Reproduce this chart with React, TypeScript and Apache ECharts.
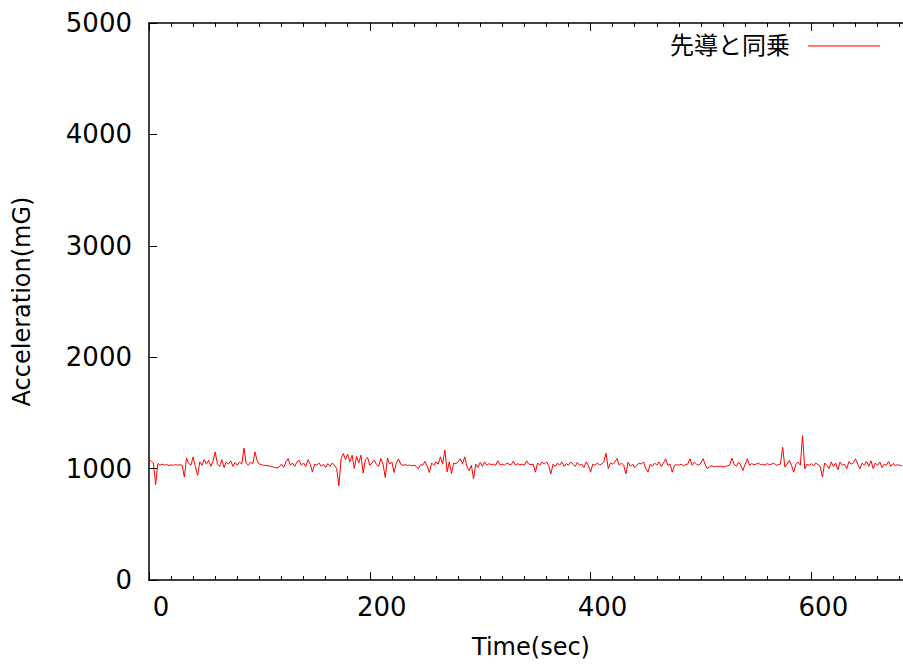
import React, { useEffect, useRef } from "react";
import * as echarts from "echarts";

// Sample times (s), one reading every 2 seconds
const STEP_SEC = 2;

// Measured acceleration (mG)
const acceleration: number[] = [
  1085, 1065, 1050, 855, 1045, 1030, 1040, 1032, 1035, 1028,
  1033, 1030, 1036, 1031, 1034, 1030, 925, 1095, 1045, 1030,
  1105, 1020, 940, 1060, 1030, 1080, 1040, 1075, 1020, 1065,
  1150, 1040, 1020, 1080, 1010, 1060, 1040, 1070, 1020, 1055,
  1030, 1060, 1040, 1185, 1050, 1030, 1060, 1040, 1150, 1070,
  1040, 1035, 1030, 1028, 1025, 1020, 1015, 1010, 1005, 1015,
  1040, 1010, 1060, 1090, 1030, 1050, 1020, 1060, 1075, 1030,
  1050, 1020, 1080, 1040, 970, 1040, 1030, 1050, 1020, 1040,
  1010, 1045, 1020, 1050, 1030, 1000, 845, 1090, 1135, 1080,
  1130, 1060, 1120, 1000, 1110, 1050, 1120, 960, 1080, 1100,
  1030, 1050, 1075, 1040, 1020, 1090, 1040, 920, 1095, 1040,
  1060, 965, 1050, 1088, 1040, 1030, 1035, 1028, 1032, 1025,
  1030, 1020, 1000, 1035, 1030, 1065, 1020, 965, 1050, 1030,
  1060, 1040, 1105, 1040, 1168, 970, 1060, 955, 1050, 1045,
  1060, 1088, 1040, 1105, 1020, 983, 1030, 909, 1040, 1010,
  1055, 1020, 1060, 1030, 1045, 1035, 1040, 1030, 1070, 1035,
  1040, 1030, 1050, 1040, 1035, 1065, 1030, 1045, 1035, 1040,
  1030, 1070, 1040, 1035, 1040, 968, 1050, 1030, 1060, 1040,
  1060, 1030, 953, 1040, 1020, 1050, 1030, 1060, 1020, 1045,
  1030, 1060, 1040, 1020, 1055, 1030, 1040, 1010, 1060, 1030,
  968, 1040, 1030, 1050, 1035, 1040, 1060, 1138, 1000, 1050,
  1040, 1060, 1090, 1030, 1050, 1030, 953, 1058, 1020, 1040,
  1010, 1030, 1050, 1040, 1060, 1000, 968, 1040, 1020, 1050,
  1030, 1060, 1020, 1050, 1088, 1030, 1040, 968, 1030, 1035,
  1030, 1040, 1025, 1035, 1040, 1088, 1030, 1058, 1040, 1030,
  1050, 1088, 1030, 998, 1020, 1025, 1015, 1020, 1018, 1022,
  1015, 1020, 1025, 1030, 1094, 1040, 1020, 1058, 1030, 983,
  1040, 1088, 1030, 1045, 1035, 1040, 1050, 1035, 1040, 1030,
  1045, 1035, 1040, 1050, 1030, 1035, 1040, 1192, 1013, 1040,
  1073, 1030, 968, 1040, 1058, 1030, 1296, 998, 1040, 1030,
  1045, 1025, 1050, 1035, 1020, 924, 1050, 1030, 1000, 1060,
  1020, 1050, 990, 1060, 1030, 1040, 1000, 1063, 1040, 1050,
  1088, 1040, 998, 1050, 1030, 1065, 1020, 1070, 1000, 1050,
  1030, 1060, 1010, 1040, 1030, 1063, 1020, 1045, 1028, 1035,
  1030, 1025,
];

const seriesName = "先導と同乗";
const xTicks = [0, 200, 400, 600];
const yTicks = [0, 1000, 2000, 3000, 4000, 5000];

const FONT = "'DejaVu Sans', 'Noto Sans CJK JP', sans-serif";

export default function App() {
  const ref = useRef<HTMLDivElement>(null);

  useEffect(() => {
    if (!ref.current) return;
    const chart = echarts.init(ref.current, undefined, { renderer: "svg" });

    const points = acceleration.map((v, i) => [i * STEP_SEC, v]);
    const xMax = 683;

    const axisLine = { show: true, lineStyle: { color: "#000", width: 1.5 } };

    chart.setOption({
      animation: false,
      backgroundColor: "#fff",
      grid: { left: 149, right: 0, top: 23, bottom: 82, containLabel: false },
      legend: {
        show: true,
        right: 18,
        top: 29,
        align: "right",
        icon: "rect",
        itemWidth: 72,
        itemHeight: 1,
        textStyle: {
          fontFamily: FONT,
          fontSize: 24,
          color: "#000",
          padding: [0, 13, 0, 0],
        },
        data: [seriesName],
      },
      xAxis: [
        {
          type: "value",
          position: "bottom",
          min: 0,
          max: xMax,
          interval: 200,
          axisLine,
          axisTick: { show: true, inside: true, length: 8, lineStyle: { color: "#000", width: 1 } },
          minorTick: { show: true, splitNumber: 10, length: 4, lineStyle: { color: "#000", width: 1 } },
          splitLine: { show: false },
          axisLabel: {
            show: true,
            margin: 14,
            fontFamily: FONT,
            fontSize: 26,
            color: "#000",
            padding: [0, 0, 0, 24],
            showMaxLabel: false,
            formatter: (v: number) => (xTicks.includes(v) ? String(v) : ""),
          },
          name: "Time(sec)",
          nameLocation: "middle",
          nameGap: 55,
          nameTextStyle: { fontFamily: FONT, fontSize: 24, color: "#000", padding: [0, 0, 0, 10] },
        },
        {
          type: "value",
          position: "top",
          min: 0,
          max: xMax,
          interval: 200,
          axisLine,
          axisTick: { show: true, inside: true, length: 8, lineStyle: { color: "#000", width: 1 } },
          minorTick: { show: true, splitNumber: 10, length: 4, lineStyle: { color: "#000", width: 1 } },
          splitLine: { show: false },
          axisLabel: { show: false },
        },
      ],
      yAxis: {
        type: "value",
        min: 0,
        max: 5000,
        interval: 1000,
        axisLine,
        axisTick: { show: true, inside: true, length: 8, lineStyle: { color: "#000", width: 1 } },
        splitLine: { show: false },
        axisLabel: {
          margin: 17,
          fontFamily: FONT,
          fontSize: 26,
          color: "#000",
          formatter: (v: number) => (yTicks.includes(v) ? String(v) : ""),
        },
        name: "Acceleration(mG)",
        nameLocation: "middle",
        nameGap: 115,
        nameTextStyle: { fontFamily: FONT, fontSize: 24, color: "#000" },
      },
      series: [
        {
          name: seriesName,
          type: "line",
          xAxisIndex: 0,
          data: points,
          symbol: "none",
          lineStyle: { color: "#ff0000", width: 1 },
          itemStyle: { color: "#ff0000" },
        },
      ],
    });

    return () => chart.dispose();
  }, []);

  return (
    <div
      ref={ref}
      style={{ position: "absolute", left: 0, top: 0, width: 903, height: 664 }}
    />
  );
}
